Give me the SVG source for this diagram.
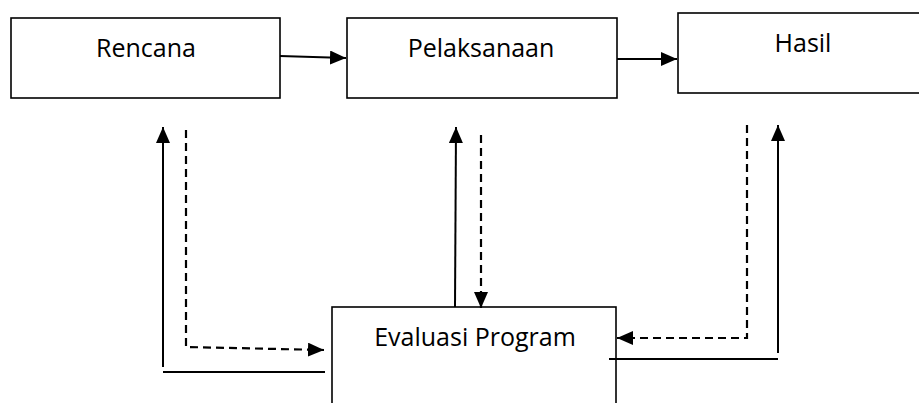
<svg xmlns="http://www.w3.org/2000/svg" width="919" height="403" viewBox="0 0 919 403">
<style>
.box{fill:#fff;stroke:#000;stroke-width:1.6}
.lbl{font-family:"Open Sans","Liberation Sans",Arial,sans-serif;font-size:25px;fill:#000;text-anchor:middle}
.ln{fill:none;stroke:#000;stroke-width:2}
.dash{fill:none;stroke:#000;stroke-width:2.2;stroke-dasharray:8 5}
</style>
<defs>
<marker id="ah" viewBox="0 0 16 14" refX="16" refY="7" markerWidth="16" markerHeight="14" markerUnits="userSpaceOnUse" orient="auto">
<path d="M0,0 L16,7 L0,14 Z" fill="#000"/>
</marker>
</defs>
<rect width="919" height="403" fill="#fff"/>
<g id="rencana">
<rect class="box" x="11" y="18" width="269" height="80"/>
<text class="lbl" x="146" y="57">Rencana</text>
</g>
<g id="pelaksanaan">
<rect class="box" x="347" y="18" width="270" height="80"/>
<text class="lbl" x="481" y="57">Pelaksanaan</text>
</g>
<g id="hasil">
<rect class="box" x="678" y="13" width="250" height="80"/>
<text class="lbl" x="803" y="52">Hasil</text>
</g>
<g id="evaluasi">
<rect class="box" x="332" y="307" width="284" height="110"/>
<text class="lbl" x="475" y="346">Evaluasi Program</text>
</g>
<g id="connectors">
<line class="ln" x1="280" y1="56" x2="346" y2="58" marker-end="url(#ah)"/>
<line class="ln" x1="617" y1="59" x2="677" y2="59" marker-end="url(#ah)"/>
<line class="ln" x1="163" y1="367" x2="163" y2="127" marker-end="url(#ah)"/>
<polyline class="dash" points="186,130 186,347 324,350" marker-end="url(#ah)"/>
<line class="ln" x1="163" y1="372" x2="325" y2="372"/>
<line class="ln" x1="455" y1="307" x2="456" y2="127" marker-end="url(#ah)"/>
<line class="dash" x1="481" y1="135" x2="481" y2="308" marker-end="url(#ah)"/>
<polyline class="dash" points="747,125 747,338 617,338" marker-end="url(#ah)"/>
<line class="ln" x1="778" y1="353" x2="778" y2="125" marker-end="url(#ah)"/>
<line class="ln" x1="609" y1="359" x2="778" y2="359"/>
</g>
</svg>
